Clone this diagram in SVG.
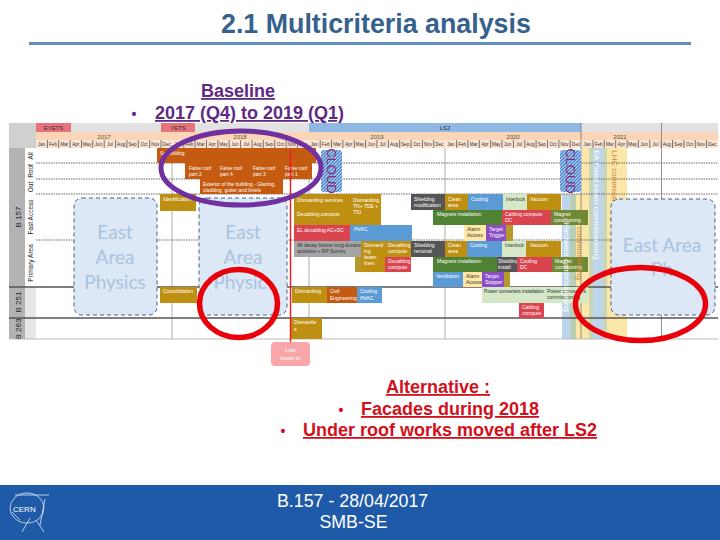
<svg xmlns="http://www.w3.org/2000/svg" width="720" height="540" viewBox="0 0 720 540">
<style>
text{font-family:"Liberation Sans",Arial,sans-serif}
.head{font-weight:bold;font-size:18px;text-decoration:underline}
.bul{font-size:14px;font-weight:bold;text-anchor:middle}
.pur{fill:#5f2a84}
.red{fill:#d2101c}
.foot{fill:#fff;font-size:17.8px}
.m{font-size:4.6px;fill:#333;text-anchor:middle}
.y{font-size:6px;fill:#553;text-anchor:middle}
.r{font-size:6.5px;fill:#222;text-anchor:middle}
.l{font-size:5px;fill:#fff}
.d{font-size:5px;fill:#333}
.gold{fill:#bf8f12}.or{fill:#c55a11}.rd{fill:#d9444f}.bl{fill:#5b9bd5}.gr{fill:#4f8233}.dk{fill:#555}.gy{fill:#a5a5a5}.pa{fill:#ffe8a6}.pu{fill:#8b4dc6}.pg{fill:#d5e8c8}.ol{fill:#6f8a34}.nw{fill:#b59a2a}
.ea{fill:#dce8f5;stroke:#44607f;stroke-width:1;stroke-dasharray:4 3}
.eat{font-family:Lato,"Open Sans",sans-serif;font-size:19px;fill:#a9c3e0;text-anchor:middle}
.gl{stroke:#999;stroke-width:.8;fill:none}
.hd{stroke:#666;stroke-width:1;stroke-dasharray:1.5 1;fill:none}
.hs{stroke:#555;stroke-width:1.6;fill:none}
.cl{font-size:13px;fill:#8a2a70;text-anchor:middle}
.vt{font-size:8px}
</style>
<defs>
<pattern id="hatch" width="2.4" height="2.4" patternUnits="userSpaceOnUse" patternTransform="rotate(45)"><rect width="2.4" height="2.4" fill="#3f7fd0"/><rect width="1" height="2.4" fill="#cfe0f5"/></pattern>
<g id="months">
<rect width="136.4" height="8" fill="#fbe3d2"/>
<g stroke="#222" stroke-width=".6"><path d="M11.4 0v8M22.7 0v8M34.1 0v8M45.5 0v8M56.8 0v8M68.2 0v8M79.6 0v8M90.9 0v8M102.3 0v8M113.7 0v8M125 0v8"/></g>
<text class="m" x="5.7" y="6">Jan</text><text class="m" x="17" y="6">Feb</text><text class="m" x="28.4" y="6">Mar</text><text class="m" x="39.8" y="6">Apr</text><text class="m" x="51.1" y="6">May</text><text class="m" x="62.5" y="6">Jun</text><text class="m" x="73.9" y="6">Jul</text><text class="m" x="85.2" y="6">Aug</text><text class="m" x="96.6" y="6">Sep</text><text class="m" x="108" y="6">Oct</text><text class="m" x="119.3" y="6">Nov</text><text class="m" x="130.7" y="6">Dec</text>
</g>
</defs>
<rect width="720" height="540" fill="#fff"/>
<g id="title">
<text x="221" y="33" font-size="26.8" font-weight="bold" fill="#36618c">2.1 Multicriteria analysis</text>
<rect x="29" y="42" width="662" height="3" fill="#5f8fc0"/>
</g>
<g id="baseline-text">
<text class="head pur" x="238" y="97" text-anchor="middle">Baseline</text>
<text x="134" y="119" class="bul pur">•</text>
<text class="head pur" x="155" y="119">2017 (Q4) to 2019 (Q1)</text>
</g>
<g id="gantt">
<rect x="9" y="123" width="709" height="216" fill="#fff"/>
<rect x="9" y="123" width="27" height="25" fill="#d0d0d0"/>
<rect x="9" y="148" width="16" height="191" fill="#b3b3b3"/>
<rect x="25" y="148" width="11" height="191" fill="#e6e6e6"/>
<rect x="25" y="148" width="11" height="139" fill="#fff"/>
<g id="phases">
<rect x="36" y="123" width="35" height="9" fill="#e7737c"/>
<rect x="71" y="123" width="90" height="9" fill="#e2e2e2"/>
<rect x="161" y="123" width="34" height="9" fill="#e7737c"/>
<rect x="195" y="123" width="114" height="9" fill="#e2e2e2"/>
<rect x="309" y="123" width="272" height="9" fill="#8fb8e4"/>
<rect x="581" y="123" width="137" height="9" fill="#e2e2e2"/>
<text x="53.5" y="130" font-size="6" fill="#333" text-anchor="middle">EYETS</text>
<text x="178" y="130" font-size="6" fill="#333" text-anchor="middle">YETS</text>
<text x="445" y="130" font-size="6" fill="#333" text-anchor="middle">LS2</text>
</g>
<g id="years">
<rect x="36" y="132" width="682" height="8" fill="#fbd5b8"/>
<text class="y" x="104" y="138.5">2017</text><text class="y" x="240" y="138.5">2018</text><text class="y" x="377" y="138.5">2019</text><text class="y" x="513" y="138.5">2020</text><text class="y" x="620" y="138.5">2021</text>
<use href="#months" x="36" y="140"/><use href="#months" x="172.4" y="140"/><use href="#months" x="308.8" y="140"/><use href="#months" x="445.2" y="140"/><use href="#months" x="581.6" y="140"/>
</g>
<g id="row-labels">
<text class="r" transform="translate(33,156) rotate(-90)">All</text>
<text class="r" transform="translate(33,171) rotate(-90)">Roof</text>
<text class="r" transform="translate(33,187) rotate(-90)">Out</text>
<text class="r" transform="translate(33,217) rotate(-90)">Fast Access</text>
<text class="r" transform="translate(33,263) rotate(-90)">Primary Area</text>
<text transform="translate(21,217) rotate(-90)" font-size="8" fill="#222" text-anchor="middle">B 157</text>
<text transform="translate(21,302) rotate(-90)" font-size="8" fill="#222" text-anchor="middle">B 251</text>
<text transform="translate(21,329) rotate(-90)" font-size="8" fill="#222" text-anchor="middle">B 263</text>
</g>
<g id="bands">
<rect x="562" y="194" width="8" height="145" fill="#bcd4ec"/>
<rect x="570" y="194" width="6" height="145" fill="#b9cfb4"/>
<rect x="576" y="194" width="6" height="145" fill="#fde7a8"/>
<rect x="582" y="148" width="7" height="191" fill="#fde7a8"/>
<rect x="589" y="148" width="4" height="191" fill="#c9d6b4"/>
<rect x="593" y="148" width="10" height="191" fill="#bcd4ec"/>
<rect x="603" y="148" width="4" height="191" fill="#c9d6b4"/>
<rect x="607" y="148" width="20" height="191" fill="#fde7a8"/>
</g>
<g id="grid">
<path class="gl" d="M172 148V339M309 148V339M445 148V339"/>
<path d="M581 123V339M661.500 123V339" stroke="#777" stroke-width=".8" fill="none"/>
<path class="hd" d="M36 163H718M36 179H718M36 194H718M36 240H718"/>
<path class="hs" d="M9 287H718M9 318H718"/>
<path d="M9 339H718" stroke="#bbb" stroke-width="1"/>
</g>
<g id="east-area-1"><rect class="ea" x="74" y="198" width="83" height="117" rx="8"/><text class="eat" x="115" y="239">East</text><text class="eat" x="115" y="264">Area</text><text class="eat" x="115" y="289">Physics</text></g>
<g id="east-area-2"><rect class="ea" x="199" y="198" width="88" height="117" rx="8"/><text class="eat" x="243" y="239">East</text><text class="eat" x="243" y="264">Area</text><text class="eat" x="240" y="289">Physic</text></g>
<g id="tasks">
<g id="t1"><rect class="or" x="157" y="148" width="159" height="15"/><text class="l" x="160" y="155">Scaffolding</text></g>
<g id="t2"><rect class="or" x="185" y="163" width="31" height="16"/><text class="l" x="189" y="170">False roof</text><text class="l" x="189" y="176">part 2</text></g>
<g id="t3"><rect class="or" x="216" y="163" width="34" height="16"/><text class="l" x="220" y="170">False roof</text><text class="l" x="220" y="176">part 4</text></g>
<g id="t4"><rect class="or" x="250" y="163" width="32" height="16"/><text class="l" x="253" y="170">False roof</text><text class="l" x="253" y="176">part 3</text></g>
<g id="t5"><rect class="or" x="282" y="163" width="30" height="16"/><text class="l" x="285" y="170">False roof</text><text class="l" x="285" y="176">part 1</text></g>
<g id="t6"><rect class="or" x="200" y="179" width="83" height="15"/><text class="l" x="203" y="186">Exterior of the building - Glazing,</text><text class="l" x="203" y="192">cladding, gutter and lintels</text></g>
<g id="t7"><rect class="gold" x="160" y="194" width="36" height="17"/><text class="l" x="163" y="201">Identification</text></g>
<g id="t8"><rect class="gold" x="160" y="287" width="37" height="16"/><text class="l" x="163" y="293">Consolidation</text></g>
<g id="t9"><rect class="gold" x="294" y="194" width="56" height="17"/><text class="l" x="297" y="202">Dismantling services</text></g>
<g id="t10"><rect class="gold" x="294" y="211" width="56" height="14"/><text class="l" x="297" y="216">Decabling compute</text></g>
<g id="t11"><rect class="gold" x="350" y="194" width="31" height="31"/><text class="l" x="353" y="202">Dismantling</text><text class="l" x="353" y="208">TN+ TDE +</text><text class="l" x="353" y="214">T51</text></g>
<g id="t12"><rect class="rd" x="294" y="225" width="56" height="16"/><text class="l" x="297" y="232">EL decabling AC+DC</text></g>
<g id="t13"><rect class="bl" x="350" y="225" width="62" height="16"/><text class="l" x="354" y="231">HVAC</text></g>
<g id="t14"><rect class="dk" x="411" y="194" width="34" height="16"/><text class="l" x="414" y="201">Shielding</text><text class="l" x="414" y="207">modification</text></g>
<g id="t15"><rect class="gold" x="445" y="194" width="23" height="16"/><text class="l" x="448" y="201">Clean</text><text class="l" x="448" y="207">area</text></g>
<g id="t16"><rect class="bl" x="468" y="194" width="35" height="16"/><text class="l" x="471" y="201">Cooling</text></g>
<g id="t17"><rect class="pg" x="503" y="194" width="24" height="16"/><text class="d" x="506" y="201">Interlock</text></g>
<g id="t18"><rect class="gold" x="527" y="194" width="34" height="16"/><text class="l" x="530" y="201">Vacuum</text></g>
<g id="t19"><rect class="gr" x="433" y="210" width="69" height="15"/><text class="l" x="437" y="216">Magnets installation</text></g>
<g id="t20"><rect class="rd" x="502" y="210" width="49" height="15"/><text class="l" x="505" y="216">Cabling compute</text><text class="l" x="505" y="222">DC</text></g>
<g id="t21"><rect class="ol" x="551" y="210" width="37" height="15"/><text class="l" x="554" y="216">Magnet</text><text class="l" x="554" y="222">conditioning</text></g>
<g id="t22"><rect class="pa" x="464" y="225" width="22" height="16"/><text class="d" x="467" y="231">Alarm</text><text class="d" x="467" y="237">Access</text></g>
<g id="t23"><rect class="pu" x="486" y="225" width="20" height="16"/><text class="l" x="489" y="231">Target</text><text class="l" x="489" y="237">Trigger</text></g>
<rect class="nw" x="506" y="225" width="7" height="16"/>
<g id="t24"><rect class="gy" x="294" y="241" width="67" height="16"/><text class="d" x="297" y="247">48 decay before long duration</text><text class="d" x="297" y="253">activities + RP Survey</text></g>
<g id="t25"><rect class="gold" x="361" y="241" width="24" height="31"/><text class="l" x="364" y="247">Dismantl</text><text class="l" x="364" y="253">ing</text><text class="l" x="364" y="259">beam</text><text class="l" x="364" y="265">lines</text></g>
<g id="t26"><rect class="gold" x="385" y="241" width="26" height="16"/><text class="l" x="388" y="247">Decabling</text><text class="l" x="388" y="253">compute</text></g>
<g id="t27"><rect class="rd" x="385" y="257" width="26" height="15"/><text class="l" x="388" y="263">Decabling</text><text class="l" x="388" y="269">compute</text></g>
<rect class="nw" x="355" y="257" width="6" height="15"/>
<g id="t28"><rect class="dk" x="411" y="241" width="34" height="16"/><text class="l" x="414" y="247">Shielding</text><text class="l" x="414" y="253">removal</text></g>
<g id="t29"><rect class="gold" x="445" y="241" width="22" height="16"/><text class="l" x="448" y="247">Clean</text><text class="l" x="448" y="253">area</text></g>
<g id="t30"><rect class="bl" x="467" y="241" width="35" height="16"/><text class="l" x="470" y="247">Cooling</text></g>
<g id="t31"><rect class="pg" x="502" y="241" width="24" height="16"/><text class="d" x="505" y="247">Interlock</text></g>
<g id="t32"><rect class="gold" x="526" y="241" width="35" height="16"/><text class="l" x="530" y="247">Vacuum</text></g>
<g id="t33"><rect class="gr" x="433" y="257" width="64" height="15"/><text class="l" x="437" y="263">Magnets installation</text></g>
<g id="t34"><rect class="dk" x="497" y="257" width="20" height="15"/><text class="l" x="498" y="263">Shielding</text><text class="l" x="498" y="269">install</text></g>
<g id="t35"><rect class="rd" x="517" y="257" width="35" height="15"/><text class="l" x="520" y="263">Cooling</text><text class="l" x="520" y="269">DC</text></g>
<g id="t36"><rect class="ol" x="552" y="257" width="36" height="15"/><text class="l" x="555" y="263">Magnet</text><text class="l" x="555" y="269">conditioning</text></g>
<g id="t37"><rect class="bl" x="433" y="272" width="30" height="15"/><text class="l" x="436" y="278">Ventilation</text></g>
<g id="t38"><rect class="pa" x="463" y="272" width="19" height="15"/><text class="d" x="466" y="278">Alarm</text><text class="d" x="466" y="284">Access</text></g>
<g id="t39"><rect class="pu" x="482" y="272" width="22" height="15"/><text class="l" x="485" y="278">Target</text><text class="l" x="485" y="284">Stopper</text></g>
<rect class="nw" x="504" y="272" width="6" height="15"/>
<g id="t40"><rect class="gold" x="292" y="287" width="35" height="16"/><text class="l" x="295" y="293">Dismantling</text></g>
<g id="t41"><rect class="or" x="327" y="287" width="30" height="16"/><text class="l" x="330" y="293">Civil</text><text class="l" x="330" y="300">Engineering</text></g>
<g id="t42"><rect class="bl" x="357" y="287" width="25" height="16"/><text class="l" x="360" y="293">Cooling</text><text class="l" x="360" y="300">HVAC</text></g>
<g id="t43"><rect class="pg" x="482" y="287" width="63" height="16"/><text class="d" x="484" y="293" textLength="60">Power converters installation</text></g>
<g id="t44"><rect class="pg" x="545" y="287" width="43" height="16"/><text class="d" x="547" y="293">Power converters</text><text class="d" x="547" y="299">commissioning</text></g>
<g id="t45"><rect class="rd" x="519" y="303" width="25" height="15"/><text class="l" x="522" y="309">Cabling</text><text class="l" x="522" y="315">compute</text></g>
<g id="t46"><rect class="gold" x="291" y="318" width="31" height="21"/><text class="l" x="294" y="324">Dismantle</text><text class="l" x="294" y="331">e</text></g>
</g>
<g id="band-labels">
<text class="vt" fill="#fff" transform="translate(564,222) rotate(90)">Hardware commissioning</text>
<text class="vt" fill="#c9843a" transform="translate(577,227) rotate(90)">commissioning</text>
<text class="vt" fill="#fff" transform="translate(594,150) rotate(90)">EA Fixed beam commissioning</text>
<text class="vt" fill="#c9843a" transform="translate(612,150) rotate(90)">LHC commissioning</text>
</g>
<g id="east-area-3"><rect class="ea" x="611" y="199" width="104" height="116" rx="8"/><text class="eat" x="662" y="252">East Area</text><text class="eat" x="662" y="276">Ph</text></g>
<g id="cloud-1"><rect x="321" y="150" width="21" height="42" rx="3" fill="url(#hatch)"/><text class="cl" transform="translate(327,171) rotate(90)">CLOUD</text></g>
<g id="cloud-2"><rect x="560" y="150" width="21" height="42" rx="3" fill="url(#hatch)"/><text class="cl" transform="translate(566,171) rotate(90)">CLOUD</text></g>
<path id="last-beam-line" d="M290.500 150V342" stroke="#e8202a" stroke-width="1.500"/>
<g id="last-beam"><rect x="271" y="342" width="39" height="24" rx="4" fill="#f9a6ab"/><text x="290.500" y="352" font-size="5.500" fill="#fff" text-anchor="middle">Last</text><text x="290.500" y="360" font-size="5.500" fill="#fff" text-anchor="middle">beam to</text></g>
</g>
<ellipse id="purple-ring" cx="241" cy="168" rx="80" ry="37" fill="none" stroke="#7030a0" stroke-width="5"/>
<ellipse id="red-ring-1" cx="238.500" cy="303.500" rx="39" ry="34" fill="none" stroke="#e8000b" stroke-width="5.500"/>
<ellipse id="red-ring-2" cx="640.500" cy="304" rx="65" ry="36.500" fill="none" stroke="#e8000b" stroke-width="5.500"/>
<g id="alternative">
<text class="head red" x="438" y="393" text-anchor="middle">Alternative :</text>
<text x="341" y="415" class="bul red">•</text>
<text class="head red" x="361" y="415">Facades during 2018</text>
<text x="283" y="436" class="bul red">•</text>
<text class="head red" x="303" y="436">Under roof works moved after LS2</text>
</g>
<g id="footer">
<rect y="485" width="720" height="55" fill="#1f5aa8"/>
<text class="foot" x="277" y="507">B.157 - 28/04/2017</text>
<text class="foot" x="353.500" y="528" text-anchor="middle">SMB-SE</text>
<g id="cern-logo" fill="none" stroke="#dfe9f5" stroke-width=".8">
<ellipse cx="27" cy="508" rx="17" ry="15"/>
<path d="M15 495H49M45 499L40 525M30 518L22 532M12 512L20 520M36 520L44 532"/>
<text x="13" y="512" font-size="8" fill="#fff" stroke="none">CERN</text>
</g>
</g>
</svg>
